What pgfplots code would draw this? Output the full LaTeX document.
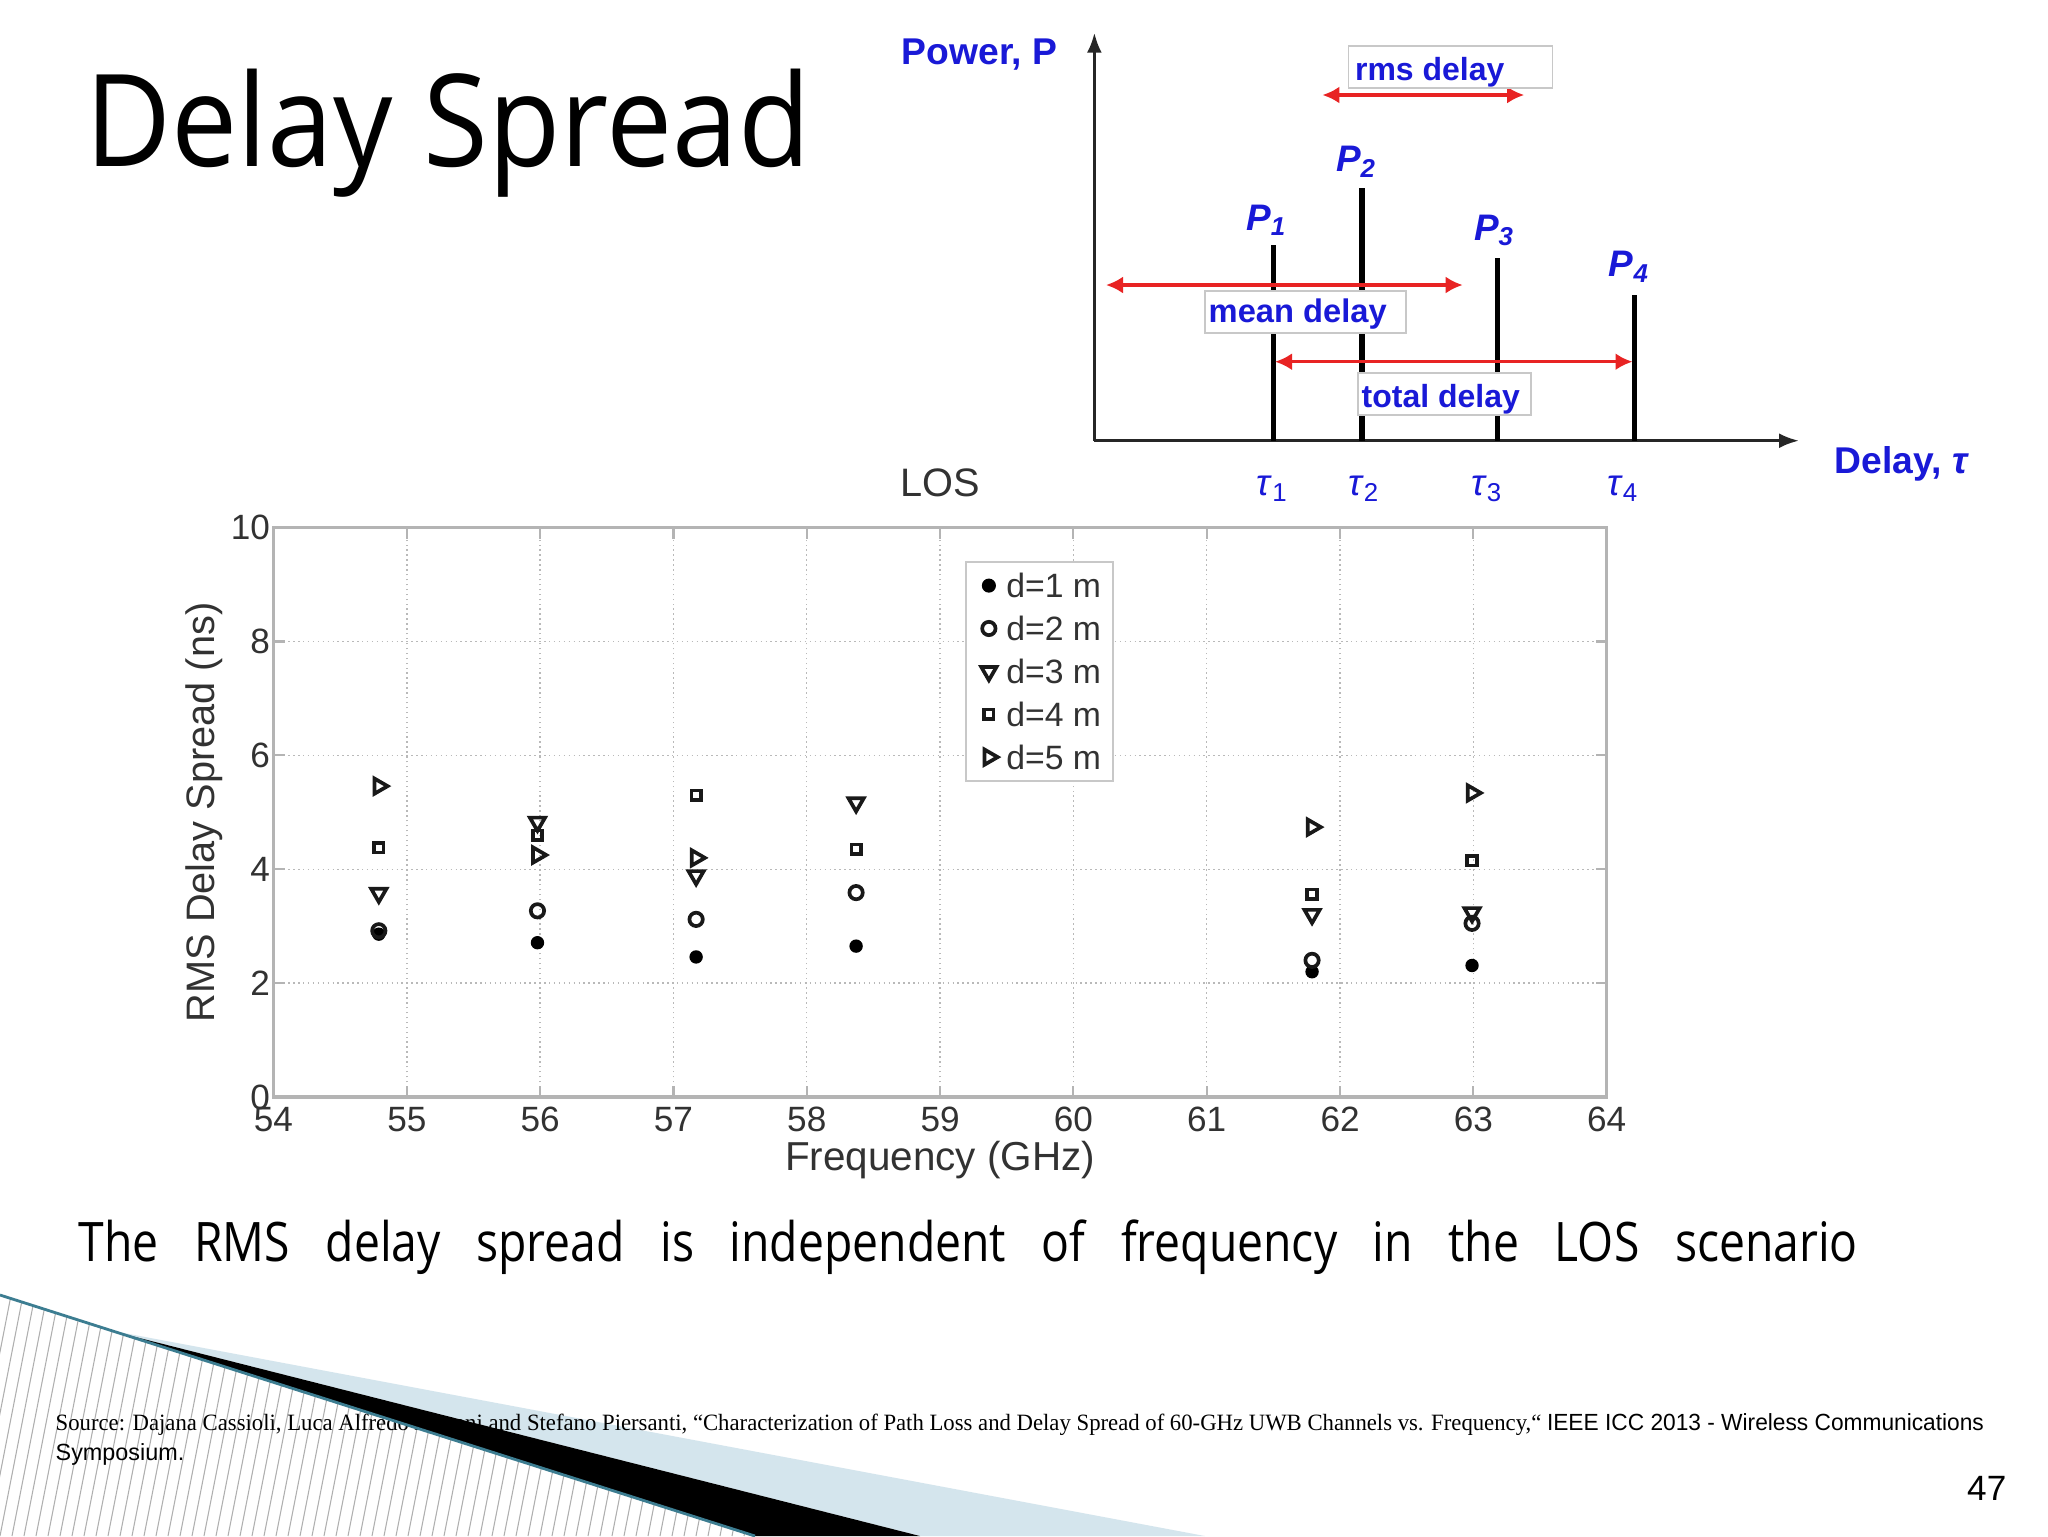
\documentclass[border=0pt]{standalone}
\usepackage{fontspec}
\usepackage{pgfplots}
\pgfplotsset{compat=1.18}
\usetikzlibrary{arrows.meta}
\setmainfont{Liberation Sans}
\newfontfamily\osans{Open Sans}
\newfontfamily\arialf{Liberation Sans}
\newfontfamily\timesf{Liberation Serif}
\definecolor{dblue}{RGB}{25,25,215}
\definecolor{arrred}{RGB}{232,35,35}
\definecolor{tealln}{RGB}{60,125,145}
\definecolor{lblue}{RGB}{212,229,237}
\definecolor{txtgray}{RGB}{50,50,50}
\definecolor{axgray}{RGB}{180,180,180}
\definecolor{boxgray}{RGB}{200,200,200}
\definecolor{hatchgray}{RGB}{175,175,175}

\begin{document}
\begin{tikzpicture}
\begin{scope}[x=0.1mm,y=-0.1mm]
\path[fill=white, use as bounding box] (0,0) rectangle (2048,1536);
\begin{scope}
\clip (0,1295) -- (755,1536) -- (0,1536) -- cycle;
\foreach \i in {-60,-48,...,800} {\draw[hatchgray, line width=0.3pt] (\i,1536) -- (\i+50,1280);}
\end{scope}
\fill[lblue] (108,1330) -- (1205,1536) -- (920,1536) -- cycle;
\node[anchor=base west, inner sep=0] at (55,1430.7) {\resizebox{192.8mm}{\height}{\fontsize{6.65}{8}\selectfont\timesf Source: Dajana Cassioli, Luca Alfredo Annoni and Stefano Piersanti, “Characterization of Path Loss and Delay Spread of 60-GHz UWB Channels vs. Frequency,“ \arialf IEEE ICC 2013 - Wireless Communications}};
\node[anchor=base west, inner sep=0] at (55,1460) {\fontsize{6.65}{8}\selectfont\arialf Symposium.};
\fill[black] (108,1330) -- (920,1536) -- (755,1536) -- cycle;
\draw[tealln, line width=0.8pt] (0,1295) -- (755,1536);
\node[anchor=base east, inner sep=0] at (2007,1500) {\fontsize{10}{12}\selectfont\arialf 47};
\node[anchor=base west, inner sep=0] at (85,166) {\resizebox{72.5mm}{\height}{\osans\fontsize{36.5}{40}\selectfont Delay Spread}};
\node[anchor=base west, inner sep=0] at (78,1261.7) {\scalebox{0.85}[1]{\makebox[209.3mm][s]{\osans\fontsize{15.5}{18}\selectfont The RMS delay spread is independent of frequency in the LOS scenario}}};
\end{scope}

% ---------------- main chart ----------------
\begin{axis}[
  at={(27.35mm,-109.7mm)}, anchor=south west,
  scale only axis, width=133.32mm, height=56.94mm,
  xmin=54, xmax=64, ymin=0, ymax=10,
  xtick={54,55,...,64}, ytick={0,2,...,10},
  /pgf/number format/assume math mode=true,
  tick align=inside,
  grid=major, major grid style={densely dotted, gray!55, line width=0.4pt},
  axis line style={axgray, line width=0.9pt},
  tick style={axgray, line width=0.6pt},
  major tick length=1.1mm,
  ticklabel style={font=\arialf\fontsize{10}{12}\selectfont, text=txtgray},
  xticklabel style={inner sep=2.6pt},
  yticklabel style={inner sep=0.8pt},
  title={LOS},
  title style={font=\arialf\fontsize{11.3}{13}\selectfont, text=txtgray, anchor=center, at={(0.5,1.0411)}},
  xlabel={Frequency (GHz)},
  xlabel style={font=\arialf\fontsize{11.5}{13}\selectfont, text=txtgray, anchor=center, at={(0.5,-0.11)}},
  ylabel={RMS Delay Spread (ns)},
  ylabel style={font=\arialf\fontsize{11.3}{13}\selectfont, text=txtgray, anchor=center, at={(-0.0521,0.5)}},
  legend style={at={(0.5187,0.942)}, anchor=north west, draw=boxgray, line width=0.6pt, fill=white,
    font=\arialf\fontsize{9.6}{11}\selectfont, text=txtgray, inner xsep=2.5pt, inner ysep=2.3pt, row sep=3.2pt,
    nodes={inner sep=1pt, text height=7pt, text depth=0pt}},
  legend cell align=left,
  legend image code/.code={\path[draw=none, fill=none] (0,0) -- (0.28cm,0); \draw[#1] plot coordinates {(0.14cm,0cm)};},
]
\addplot[only marks, mark=*, mark size=1.7pt, black] coordinates {
(54.79,2.86) (55.98,2.71) (57.17,2.46) (58.37,2.65) (61.79,2.20) (62.99,2.31)};
\addlegendentry{d=1 m}
\addplot[only marks, mark=o, mark size=1.9pt, line width=1.05pt, black!90] coordinates {
(54.79,2.92) (55.98,3.27) (57.17,3.12) (58.37,3.59) (61.79,2.40) (62.99,3.05)};
\addlegendentry{d=2 m}
\addplot[only marks, mark=triangle, mark options={rotate=180}, mark size=2.5pt, line width=1.05pt, black!90] coordinates {
(54.79,3.58) (55.98,4.83) (57.17,3.89) (58.37,5.17) (61.79,3.21) (62.99,3.24)};
\addlegendentry{d=3 m}
\addplot[only marks, mark=square, mark size=1.35pt, line width=1.05pt, black!90] coordinates {
(54.79,4.38) (55.98,4.60) (57.17,5.30) (58.37,4.35) (61.79,3.56) (62.99,4.15)};
\addlegendentry{d=4 m}
\addplot[only marks, mark=triangle, mark options={rotate=-90}, mark size=2.5pt, line width=1.05pt, black!90] coordinates {
(54.79,5.46) (55.98,4.25) (57.17,4.20) (61.79,4.74) (62.99,5.34)};
\addlegendentry{d=5 m}
\end{axis}

% ---------------- delay diagram ----------------
\begin{axis}[
  at={(109.44mm,-44.07mm)}, anchor=south west,
  x=0.1mm, y=0.1mm, xmin=0, xmax=704.6, ymin=0, ymax=408,
  axis lines=left,
  axis line style={-{Latex[length=2mm,width=1.5mm]}, line width=0.9pt, black!85},
  xtick=\empty, ytick=\empty, clip=false,
]
\addplot[ycomb, no marks, black, line width=1.5pt] coordinates {
(178.8,195.7) (267.6,253) (402.9,183) (539.9,145.4)};
\draw[arrred, line width=0.9pt, {Latex[length=1.7mm,width=1.7mm]}-{Latex[length=1.7mm,width=1.7mm]}] (axis cs:228,345.7) -- (axis cs:429.8,345.7);
\draw[arrred, line width=0.9pt, {Latex[length=1.7mm,width=1.7mm]}-{Latex[length=1.7mm,width=1.7mm]}] (axis cs:11.6,155.7) -- (axis cs:368.3,155.7);
\draw[arrred, line width=0.9pt, {Latex[length=1.7mm,width=1.7mm]}-{Latex[length=1.7mm,width=1.7mm]}] (axis cs:180.6,79) -- (axis cs:538.1,79);
\draw[boxgray, fill=white, line width=0.5pt] (axis cs:254.2,395) rectangle (axis cs:458,352.4);
\draw[boxgray, fill=white, line width=0.5pt] (axis cs:110.6,149.7) rectangle (axis cs:311.6,108);
\draw[boxgray, fill=white, line width=0.5pt] (axis cs:263.4,67.4) rectangle (axis cs:436.6,25.7);
\node[anchor=base west, inner sep=0, text=dblue, font=\arialf\bfseries\fontsize{9.1}{11}\selectfont] at (axis cs:260,360.7) {rms delay};
\node[anchor=base west, inner sep=0, text=dblue, font=\arialf\bfseries\fontsize{9.3}{11}\selectfont] at (axis cs:113.6,118) {mean delay};
\node[anchor=base west, inner sep=0, text=dblue, font=\arialf\bfseries\fontsize{9.1}{11}\selectfont] at (axis cs:266.6,33.7) {total delay};
\node[anchor=base, inner sep=0, text=dblue, font=\arialf\bfseries\itshape\fontsize{10.5}{12}\selectfont] at (axis cs:172.3,210.7) {P\textsubscript{1}};
\node[anchor=base, inner sep=0, text=dblue, font=\arialf\bfseries\itshape\fontsize{10.5}{12}\selectfont] at (axis cs:262,269) {P\textsubscript{2}};
\node[anchor=base, inner sep=0, text=dblue, font=\arialf\bfseries\itshape\fontsize{10.5}{12}\selectfont] at (axis cs:400,200.7) {P\textsubscript{3}};
\node[anchor=base, inner sep=0, text=dblue, font=\arialf\bfseries\itshape\fontsize{10.5}{12}\selectfont] at (axis cs:534.9,164) {P\textsubscript{4}};
\node[anchor=center, inner sep=0, text=dblue, font=\arialf\fontsize{10.5}{12}\selectfont] at (axis cs:178.2,-48.3) {\textit{τ}\textsubscript{1}};
\node[anchor=center, inner sep=0, text=dblue, font=\arialf\fontsize{10.5}{12}\selectfont] at (axis cs:269.6,-48.3) {\textit{τ}\textsubscript{2}};
\node[anchor=center, inner sep=0, text=dblue, font=\arialf\fontsize{10.5}{12}\selectfont] at (axis cs:392.6,-48.3) {\textit{τ}\textsubscript{3}};
\node[anchor=center, inner sep=0, text=dblue, font=\arialf\fontsize{10.5}{12}\selectfont] at (axis cs:528.6,-48.3) {\textit{τ}\textsubscript{4}};
\node[anchor=base west, inner sep=0, text=dblue, font=\arialf\bfseries\fontsize{10.6}{12}\selectfont] at (axis cs:739.6,-32.3) {Delay, \textit{τ}};
\node[anchor=west, inner sep=0, text=dblue, font=\arialf\bfseries\fontsize{10.6}{12}\selectfont] at (axis cs:-193.4,386) {Power, P};
\end{axis}
\end{tikzpicture}
\end{document}
